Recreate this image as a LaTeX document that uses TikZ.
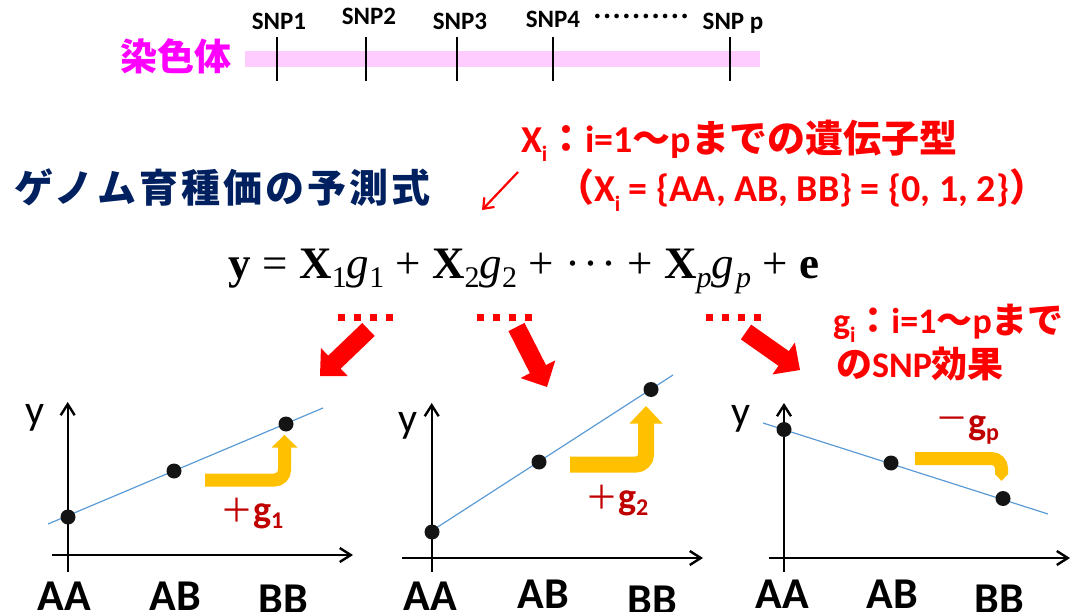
\documentclass[tikz,border=0pt]{standalone}
\usepackage{fontspec}
\setmainfont{Carlito}
\newfontfamily\jp{Noto Sans CJK JP}
\newfontfamily\jpt{Noto Sans CJK JP}[LetterSpace=8]
\newfontfamily\tms{Liberation Serif}
\usetikzlibrary{arrows.meta,calc}
\definecolor{navy}{HTML}{002060}
\definecolor{dred}{HTML}{C00000}
\definecolor{ygold}{HTML}{FFC000}
\definecolor{lblue}{HTML}{5B9BD5}
\definecolor{pinkbar}{HTML}{FFCCFF}
\definecolor{mag}{HTML}{FF00FF}
\newcommand\fs[1]{\fontsize{#1}{#1}\selectfont}
\newcommand\rsub[1]{\raisebox{-0.25em}{\fs{22}#1}}
\newcommand\msub[1]{\raisebox{-9pt}{\fs{30}#1}}
\newcommand\blockarrow[2]{%
  \coordinate (#1b) at ($(#2)!20pt!(#1)$);
  \fill[red] ($(#1)!9pt!90:(#2)$) -- ($(#1b)!9pt!90:(#2)$) -- ($(#1b)!19.5pt!90:(#2)$) -- (#2)
    -- ($(#1b)!19.5pt!-90:(#2)$) -- ($(#1b)!9pt!-90:(#2)$) -- ($(#1)!9pt!-90:(#2)$) -- cycle;}
\begin{document}
\begin{tikzpicture}[x=1pt,y=-1pt,
  txt/.style={inner sep=0pt, outer sep=0pt},
  snplab/.style={txt, font=\fs{25}\bfseries},
  ticklin/.style={line width=2.6pt, black},
  axisln/.style={line width=2.4pt, black, -{Straight Barb[length=11pt,width=14pt]}},
  fitln/.style={line width=1.2pt, lblue},
  dot/.style={circle, fill=black!92, inner sep=0pt, minimum size=15pt},
  ylab/.style={txt, font=\fs{42}},
  glab/.style={txt, font=\fs{44}\bfseries},
  yarrow/.style={line width=#1, ygold, rounded corners=10pt},
  effect/.style={txt, text=dred, anchor=base west},
  redtxt/.style={txt, text=red, anchor=west, font=\fs{38}\bfseries},
  reddots/.style={red, line width=7pt, dash pattern=on 7pt off 9pt}
]
\path[use as bounding box] (0,0) rectangle (1084,612);

% chromosome
\node[txt, text=mag, font=\jp\bfseries\fs{37}] (chr) at (176,56) {染色体};
\node[fill=pinkbar, inner sep=0pt, minimum width=515pt, minimum height=16pt] (bar) at (502.5,59) {};
\foreach \x/\n in {277/1,366/2,457/3,553/4,730/p}{
  \coordinate (t\n a) at (\x,37); \coordinate (t\n b) at (\x,81);
  \draw[ticklin] (t\n a) -- (t\n b);}
\node[snplab] (s1) at (279,21) {SNP1};
\node[snplab] (s2) at (369,16) {SNP2};
\node[snplab] (s3) at (460,21) {SNP3};
\node[snplab] (s4) at (553,19) {SNP4};
\node[snplab] (sdots) at (641,19) {·\kern3pt·\kern3pt·\kern3pt·\kern3pt·\kern3pt·\kern3pt·\kern3pt·\kern3pt·\kern3pt·};
\node[snplab] (sp) at (733,23) {SNP p};

% title
\node[txt, anchor=west, text=navy, font=\jpt\bfseries\fs{39}] (title) at (14,188) {ゲノム育種価の予測式};

% red annotation X_i
\node[redtxt] (xi1) at (521,141) {X\rsub{i}{\jp\bfseries ：}i=1{\jp\bfseries ～}p{\jp\bfseries までの遺伝子型}};
\node[redtxt] (xi2) at (556,190) {{\jp\bfseries （}X\rsub{i} = \{AA, AB, BB\} = \{0, 1, 2\}{\jp\bfseries ）}};
\coordinate (xa) at (518,172); \coordinate (xb) at (482,210);
\draw[red, line width=2.2pt, -{Straight Barb[length=9pt,width=14pt]}] (xa) -- (xb);

% formula
\node[txt] (eq) at (524,271) {\tms\fs{45}\textbf{y} = \textbf{X}\msub{1}\textit{g}\msub{1} + \textbf{X}\msub{2}\textit{g}\msub{2} + ·\kern.07em·\kern.07em· + \textbf{X}\msub{\textit{p}}\textit{g}\kern2pt\msub{\textit{p}} + \textbf{e}};

% red dotted marks
\coordinate (m1a) at (338,317); \coordinate (m1b) at (395,317);
\coordinate (m2a) at (477,317); \coordinate (m2b) at (534,317);
\coordinate (m3a) at (706,317); \coordinate (m3b) at (763,317);
\draw[reddots] (m1a) -- (m1b);
\draw[reddots] (m2a) -- (m2b);
\draw[reddots] (m3a) -- (m3b);

% red block arrows
\coordinate (a1s) at (368.5,329.5); \coordinate (a1t) at (320,376);
\coordinate (a2s) at (516.5,327); \coordinate (a2t) at (547,387);
\coordinate (a3s) at (746,332); \coordinate (a3t) at (800,370);
\blockarrow{a1s}{a1t}
\blockarrow{a2s}{a2t}
\blockarrow{a3s}{a3t}

% g_i annotation
\node[redtxt, font=\fs{36}\bfseries] (gi1) at (833,323) {g\rsub{i}{\jp\bfseries ：}i=1{\jp\bfseries ～}p{\jp\bfseries まで}};
\node[redtxt, font=\fs{36}\bfseries] (gi2) at (836,364) {{\jp\bfseries の}SNP{\jp\bfseries 効果}};

% ---------- graph 1
\coordinate (x1a) at (52,555); \coordinate (x1b) at (353,555);
\coordinate (y1a) at (67.7,572); \coordinate (y1b) at (67.7,402);
\draw[axisln] (x1a) -- (x1b);
\draw[axisln] (y1a) -- (y1b);
\coordinate (f1a) at (48,524); \coordinate (f1b) at (323,408);
\draw[fitln] (f1a) -- (f1b);
\node[dot] (d11) at (68,517) {};
\node[dot] (d12) at (174,471) {};
\node[dot] (d13) at (286,424) {};
\node[ylab] (yl1) at (35,418) {y};
\node[glab] (g1aa) at (64,596) {AA};
\node[glab] (g1ab) at (175,596) {AB};
\node[glab] (g1bb) at (283,599) {BB};
\coordinate (u1a) at (205,480); \coordinate (u1b) at (284.5,447);
\draw[yarrow=13pt] (u1a) -| (u1b);
\fill[ygold] (271.5,447.5) -- (297.5,447.5) -- (284.5,435) -- cycle;
\node[effect] (e1) at (220,522) {{\jp\fs{33}＋}\fs{38}\bfseries g\raisebox{-6pt}{\fs{24}1}};

% ---------- graph 2
\coordinate (x2a) at (402,558); \coordinate (x2b) at (703,558);
\coordinate (y2a) at (431.7,572); \coordinate (y2b) at (431.7,403);
\draw[axisln] (x2a) -- (x2b);
\draw[axisln] (y2a) -- (y2b);
\coordinate (f2a) at (433,530); \coordinate (f2b) at (673,375);
\draw[fitln] (f2a) -- (f2b);
\node[dot] (d21) at (432,532) {};
\node[dot] (d22) at (539,462) {};
\node[dot] (d23) at (651,389.5) {};
\node[ylab] (yl2) at (408,426) {y};
\node[glab] (g2aa) at (430,596) {AA};
\node[glab] (g2ab) at (543,594) {AB};
\node[glab] (g2bb) at (652,600) {BB};
\coordinate (u2a) at (570,464.5); \coordinate (u2b) at (646,423);
\draw[yarrow=16pt] (u2a) -| (u2b);
\fill[ygold] (629.5,423.5) -- (662.5,423.5) -- (646,406) -- cycle;
\node[effect] (e2) at (585,509) {{\jp\fs{33}＋}\fs{38}\bfseries g\raisebox{-6pt}{\fs{24}2}};

% ---------- graph 3
\coordinate (x3a) at (769,558); \coordinate (x3b) at (1070,558);
\coordinate (y3a) at (784,572); \coordinate (y3b) at (784,403);
\draw[axisln] (x3a) -- (x3b);
\draw[axisln] (y3a) -- (y3b);
\coordinate (f3a) at (763,423); \coordinate (f3b) at (1048,514);
\draw[fitln] (f3a) -- (f3b);
\node[dot] (d31) at (784,429.5) {};
\node[dot] (d32) at (891,463) {};
\node[dot] (d33) at (1003,498.5) {};
\node[ylab] (yl3) at (741,419) {y};
\node[glab] (g3aa) at (782,594) {AA};
\node[glab] (g3ab) at (892,594) {AB};
\node[glab] (g3bb) at (999,599) {BB};
\coordinate (u3a) at (915,458.5); \coordinate (u3b) at (1001.5,474.5);
\draw[yarrow=13pt] (u3a) -| (u3b);
\fill[ygold] (995,474) -- (1008,474) -- (1001.5,481) -- cycle;
\node[effect] (e3) at (935,434) {{\jp\fs{33}\raisebox{4pt}{－}}\fs{38}\bfseries g\raisebox{-6pt}{\fs{24}p}};
\end{tikzpicture}
\end{document}
